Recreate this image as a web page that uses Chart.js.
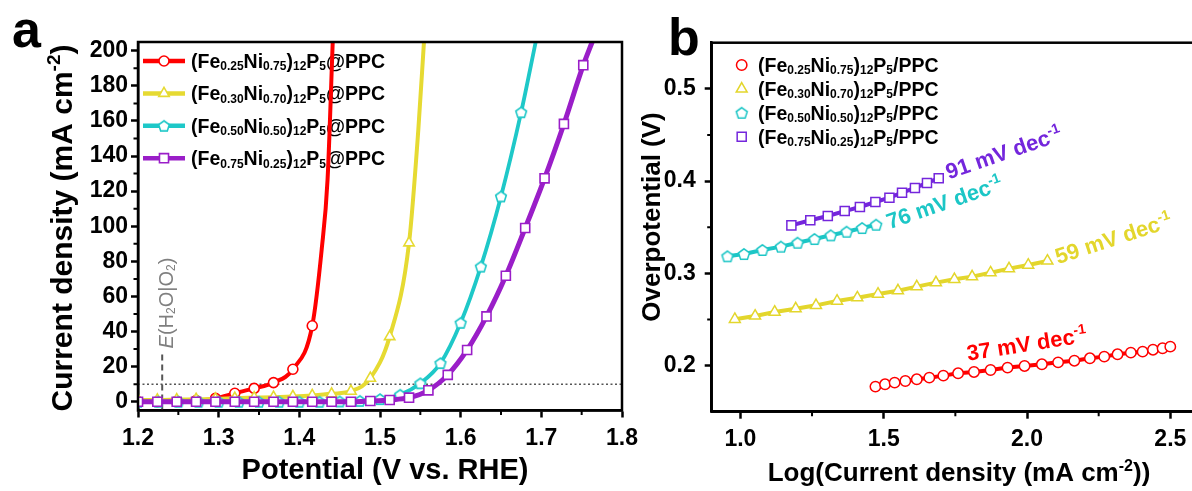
<!DOCTYPE html>
<html lang="en">
<head>
<meta charset="UTF-8">
<title>LSV and Tafel plots</title>
<script src="https://cdn.jsdelivr.net/npm/chart.js@4.4.1/dist/chart.umd.min.js"></script>
<style>
  html, body { margin: 0; padding: 0; background: #fff; overflow: hidden; }
  #wrap { position: relative; width: 1192px; height: 491px; overflow: hidden; }
  #chartA { position: absolute; left: 0; top: 0; }
  #chartB { position: absolute; left: 600px; top: 0; }
</style>
</head>
<body>
<div id="wrap">
  <canvas id="chartA" width="650" height="491"></canvas>
  <canvas id="chartB" width="620" height="491"></canvas>
</div>

<script>
// ---- panel a : LSV curves (potential V vs RHE, current density mA cm-2) ----
var potA24 = [1.2, 1.224, 1.248, 1.272, 1.296, 1.32, 1.344, 1.368, 1.392, 1.416, 1.44, 1.464,
              1.488, 1.512, 1.536, 1.56, 1.584, 1.608, 1.632, 1.656, 1.68, 1.704, 1.728, 1.752];
var potA25 = [1.2, 1.225, 1.25, 1.275, 1.3, 1.325, 1.35, 1.375, 1.4, 1.425,
              1.45, 1.475, 1.5, 1.525, 1.55, 1.575, 1.6, 1.625, 1.65, 1.675];

var jRed    = [0, 0, 0.2, 0.6, 1.9, 4.8, 7.6, 10.9, 18.5, 43.3];
var jYellow = [1, 1, 1.2, 1.4, 1.6, 2, 2.3, 2.6, 3, 3.6, 4.5, 6, 13.4, 37.1, 90.5];
var jCyan   = [0, 0, 0, 0, 0, 0, 0, 0, 0, 0, 0.2, 0.5, 1.5, 4, 10.5, 22, 45, 77, 117, 165];
var jPurple = [0, 0, 0, 0, 0, 0, 0, 0, 0, 0, 0, 0, 0.4, 1, 2.3, 6.5, 15.3, 29.5, 48.6, 71.8,
               99, 127.3, 158.3, 191.8];

// line continues past the last marker up to the top of the frame
var tailRedV = [1.4277, 1.435, 1.4414],   tailRedJ = [86.7, 126.7, 205];
var tailYelV = [1.5475, 1.5545],          tailYelJ = [155, 205];
var tailCyaV = [1.693],                   tailCyaJ = [205];
var tailPurV = [1.763],                   tailPurJ = [205];

var potTicks = [1.2, 1.3, 1.4, 1.5, 1.6, 1.7, 1.8];
var potMinor = [1.25, 1.35, 1.45, 1.55, 1.65, 1.75];
var jTicks = [0, 20, 40, 60, 80, 100, 120, 140, 160, 180, 200];
var jMinor = [10, 30, 50, 70, 90, 110, 130, 150, 170, 190];
var eqPotential = 1.23;
var refCurrent = 10;

// ---- panel b : Tafel plots (log j, overpotential V) ----
var logRed = [1.4712, 1.5047, 1.5382, 1.5755, 1.6154, 1.6592, 1.7081, 1.7596, 1.815, 1.8729, 1.9321,
              1.9914, 2.0519, 2.1085, 2.1652, 2.2193, 2.2695, 2.3158, 2.3622, 2.4034, 2.4395, 2.4729, 2.4999];
var etaRed = [0.1772, 0.1797, 0.1815, 0.1833, 0.1851, 0.1869, 0.1891, 0.1916, 0.1931, 0.1952, 0.1978,
              0.1996, 0.2014, 0.2035, 0.2053, 0.2079, 0.2097, 0.2122, 0.214, 0.2151, 0.2172, 0.2187, 0.2205];
var logYellow = [0.9807, 1.0515, 1.1197, 1.1931, 1.2639, 1.3373, 1.4081, 1.4802, 1.5498, 1.6154,
                 1.6824, 1.7467, 1.8085, 1.8729, 1.9373, 2.0043, 2.0712];
var etaYellow = [0.2502, 0.2538, 0.2581, 0.2617, 0.2653, 0.27, 0.2736, 0.2776, 0.2812, 0.2856,
                 0.2899, 0.2935, 0.2964, 0.3007, 0.3051, 0.309, 0.3134];
var logCyan = [0.955, 1.0129, 1.0772, 1.1416, 1.1996, 1.2588, 1.3154, 1.3708, 1.4249, 1.4738];
var etaCyan = [0.3185, 0.3209, 0.3253, 0.3289, 0.3332, 0.3372, 0.3412, 0.3451, 0.3491, 0.3527];
var logPurple = [1.178, 1.244, 1.305, 1.364, 1.417, 1.471, 1.52, 1.564, 1.609, 1.651, 1.692];
var etaPurple = [0.352, 0.3575, 0.3621, 0.3675, 0.3719, 0.3773, 0.382, 0.3874, 0.3925, 0.398, 0.403];

var logTicks = [1.0, 1.5, 2.0, 2.5];
var logMinor = [1.25, 1.75, 2.25];
var etaTicks = [0.2, 0.3, 0.4, 0.5];
var etaMinor = [0.25, 0.35, 0.45];

var tafelSlopes = ['37', '59', '76', '91'];
var compositions = [['0.25', '0.75'], ['0.30', '0.70'], ['0.50', '0.50'], ['0.75', '0.25']];

// ---- styling ----
var FONT = "'Liberation Sans', Arial, Helvetica, sans-serif";
var colA = ['#ff0000', '#e6da32', '#1ec8c8', '#9a1ec8'];
var colB = ['#ff0000', '#e3d62c', '#1cc6c6', '#7426dc'];

function pentagon(color, r, lw) {
  var c = document.createElement('canvas');
  var s = 2 * Math.ceil(r + lw);
  c.width = c.height = s;
  var g = c.getContext('2d');
  g.beginPath();
  for (var i = 0; i < 5; i++) {
    var a = -Math.PI / 2 + i * 2 * Math.PI / 5;
    g.lineTo(s / 2 + r * Math.cos(a), s / 2 + 0.6 + r * Math.sin(a));
  }
  g.closePath();
  g.fillStyle = '#fff';
  g.fill();
  g.strokeStyle = color;
  g.lineWidth = lw;
  g.stroke();
  return c;
}

var stylesA = ['circle', 'triangle', pentagon(colA[2], 5.6, 1.6), 'rect'];
var stylesB = ['circle', 'triangle', pentagon(colB[2], 5.8, 1.5), 'rect'];
var radA = [5, 6, 6, 6.4];
var radB = [5.2, 6.3, 6, 6.4];

function name(i) {
  return '(Fe_{' + compositions[i][0] + '}Ni_{' + compositions[i][1] + '})_{12}P_{5}';
}

// small rich-text writer: _{sub}, ^{sup}, *italic*
function parts(s) {
  return s.split(/(_\{[^}]*\}|\^\{[^}]*\}|\*[^*]*\*)/).filter(Boolean).map(function (p) {
    if (p.indexOf('_{') === 0) return { t: p.slice(2, -1), k: 'sub' };
    if (p.indexOf('^{') === 0) return { t: p.slice(2, -1), k: 'sup' };
    if (p.charAt(0) === '*') return { t: p.slice(1, -1), k: 'it' };
    return { t: p, k: 'n' };
  });
}

function drawRich(ctx, str, x, y, o) {
  var ps = parts(str), size = o.size, w = o.weight || 'bold';
  var fontOf = function (k) {
    var fs = (k === 'sub' || k === 'sup') ? Math.round(size * 0.62) : size;
    return (k === 'it' ? 'italic ' : '') + w + ' ' + fs + 'px ' + FONT;
  };
  var total = 0;
  ps.forEach(function (p) { ctx.font = fontOf(p.k); p.w = ctx.measureText(p.t).width; total += p.w; });
  ctx.save();
  ctx.translate(x, y);
  if (o.rot) ctx.rotate(o.rot * Math.PI / 180);
  ctx.fillStyle = o.color || '#000';
  ctx.textBaseline = 'alphabetic';
  ctx.textAlign = 'left';
  var cx = o.align === 'center' ? -total / 2 : 0;
  ps.forEach(function (p) {
    ctx.font = fontOf(p.k);
    var dy = p.k === 'sub' ? size * 0.12 : p.k === 'sup' ? -size * 0.4 : 0;
    ctx.fillText(p.t, cx, dy);
    cx += p.w;
  });
  ctx.restore();
}

function marker(ctx, style, r, color, bw, x, y) {
  ctx.save();
  ctx.fillStyle = '#fff';
  ctx.strokeStyle = color;
  ctx.lineWidth = bw;
  Chart.helpers.drawPoint(ctx, { pointStyle: style, radius: r, borderWidth: bw, rotation: 0 }, x, y);
  ctx.restore();
}

function frame(chart, xMinor, yMinor) {
  var ctx = chart.ctx, a = chart.chartArea, sx = chart.scales.x, sy = chart.scales.y;
  ctx.save();
  ctx.strokeStyle = '#000';
  ctx.lineWidth = 2;
  ctx.beginPath();
  xMinor.forEach(function (v) { var p = sx.getPixelForValue(v); ctx.moveTo(p, a.bottom); ctx.lineTo(p, a.bottom + 4.5); });
  yMinor.forEach(function (v) { var p = sy.getPixelForValue(v); ctx.moveTo(a.left, p); ctx.lineTo(a.left - 4.5, p); });
  ctx.stroke();
  ctx.lineWidth = 2.5;
  ctx.strokeRect(a.left, a.top, a.right - a.left, a.bottom - a.top);
  ctx.restore();
}

function axis(min, max, ticks, fmt, fit, pad) {
  return {
    type: 'linear', min: min, max: max,
    afterBuildTicks: function (s) { s.ticks = ticks.map(function (v) { return { value: v }; }); },
    afterFit: fit,
    ticks: { callback: fmt, font: { family: FONT, size: 23, weight: 'bold' }, color: '#000',
             autoSkip: false, maxRotation: 0, padding: pad },
    grid: { drawOnChartArea: false, tickLength: 7, tickWidth: 2.5, tickColor: '#000' },
    border: { color: '#000', width: 2.5 }
  };
}

function zip(xs, ys) { return xs.map(function (x, k) { return { x: x, y: ys[k] }; }); }

// ---------- chart a ----------
function lsv(i, v, j, tv, tj, lw, order) {
  var n = v.length;
  return {
    label: name(i) + '@PPC',
    data: zip(v, j).concat(zip(tv, tj)),
    borderColor: colA[i], borderWidth: lw,
    pointStyle: stylesA[i],
    pointRadius: function (c) { return c.dataIndex < n ? radA[i] : 0; },
    pointBackgroundColor: '#fff', pointBorderColor: colA[i], pointBorderWidth: 1.6,
    cubicInterpolationMode: 'monotone', order: order
  };
}

var decoA = {
  id: 'decoA',
  beforeDatasetsDraw: function (chart) {
    var ctx = chart.ctx;
    for (var i = 0; i < 4; i++) {
      var y = 61 + i * 32.4;
      ctx.save();
      ctx.strokeStyle = colA[i];
      ctx.lineWidth = 4.5;
      ctx.beginPath(); ctx.moveTo(143, y); ctx.lineTo(185, y); ctx.stroke();
      ctx.restore();
      marker(ctx, stylesA[i], radA[i], colA[i], 1.6, 164, y);
      drawRich(ctx, name(i) + '@PPC', 191, y + 7, { size: 19.5 });
    }
    drawRich(ctx, '*E*(H_{2}O|O_{2})', 173, 303, { size: 20, weight: 'normal', rot: -90, align: 'center', color: '#7f7f7f' });
  },
  afterDraw: function (chart) {
    var ctx = chart.ctx;
    frame(chart, potMinor, jMinor);
    drawRich(ctx, 'Current density (mA cm^{-2})', 72, 228, { size: 30, rot: -90, align: 'center' });
    drawRich(ctx, 'Potential (V vs. RHE)', 385, 479, { size: 29, align: 'center' });
    drawRich(ctx, 'a', 12, 47, { size: 52 });
  }
};

new Chart(document.getElementById('chartA'), {
  type: 'line',
  data: {
    datasets: [
      lsv(3, potA24, jPurple, tailPurV, tailPurJ, 5, 1),
      lsv(2, potA25, jCyan, tailCyaV, tailCyaJ, 3.8, 2),
      lsv(1, potA24.slice(0, jYellow.length), jYellow, tailYelV, tailYelJ, 4, 3),
      lsv(0, potA24.slice(0, jRed.length), jRed, tailRedV, tailRedJ, 4, 4),
      { label: 'j = 10', data: zip([1.2, 1.8], [refCurrent, refCurrent]), borderColor: '#555', borderWidth: 1.5,
        borderDash: [2, 2.5], pointRadius: 0, order: 9 },
      { label: 'E', data: zip([eqPotential, eqPotential], [-5, 28]), borderColor: '#555', borderWidth: 2,
        borderDash: [6, 4], pointRadius: 0, order: 9 }
    ]
  },
  options: {
    responsive: false, animation: false, devicePixelRatio: 1, events: [],
    layout: { padding: { left: 0, right: 28, top: 42, bottom: 0 } },
    plugins: { legend: { display: false }, tooltip: { enabled: false } },
    scales: {
      x: axis(1.2, 1.8, potTicks, function (v) { return v.toFixed(1); }, function (s) { s.height = 80.5; }, 7),
      y: axis(-5, 205, jTicks, function (v) { return String(v); }, function (s) { s.width = 138; }, 3)
    }
  },
  plugins: [decoA]
});

// ---------- chart b ----------
function tafel(i, lx, ey, order) {
  return {
    label: name(i) + '/PPC',
    data: zip(lx, ey),
    showLine: true, tension: 0,
    borderColor: colB[i], borderWidth: 4,
    pointStyle: stylesB[i], pointRadius: radB[i],
    pointBackgroundColor: '#fff', pointBorderColor: colB[i], pointBorderWidth: 1.5,
    order: order
  };
}

var slopeLabels = [
  { i: 3, x: 1.727, y: 0.4018, rot: -19 },
  { i: 2, x: 1.52, y: 0.3477, rot: -19 },
  { i: 1, x: 2.108, y: 0.3099, rot: -18 },
  { i: 0, x: 1.794, y: 0.2052, rot: -9 }
];

var decoB = {
  id: 'decoB',
  afterDraw: function (chart) {
    var ctx = chart.ctx, sx = chart.scales.x, sy = chart.scales.y;
    frame(chart, logMinor, etaMinor);
    for (var i = 0; i < 4; i++) {
      var y = 65 + i * 23.9;
      marker(ctx, stylesB[i], radB[i], colB[i], 1.5, 141.7, y);
      drawRich(ctx, name(i) + '/PPC', 158, y + 7, { size: 19.5 });
    }
    slopeLabels.forEach(function (l) {
      drawRich(ctx, tafelSlopes[l.i] + ' mV dec^{-1}', sx.getPixelForValue(l.x), sy.getPixelForValue(l.y),
               { size: 22, rot: l.rot, color: colB[l.i] });
    });
    drawRich(ctx, 'Overpotential (V)', 60, 217, { size: 26, rot: -90, align: 'center' });
    drawRich(ctx, 'Log(Current density (mA cm^{-2}))', 359, 481, { size: 26, align: 'center' });
    drawRich(ctx, 'b', 68, 55, { size: 52 });
  }
};

new Chart(document.getElementById('chartB'), {
  type: 'scatter',
  data: {
    datasets: [
      tafel(3, logPurple, etaPurple, 1),
      tafel(2, logCyan, etaCyan, 2),
      tafel(1, logYellow, etaYellow, 3),
      tafel(0, logRed, etaRed, 4)
    ]
  },
  options: {
    responsive: false, animation: false, devicePixelRatio: 1, events: [],
    layout: { padding: { left: 0, right: 21, top: 42.7, bottom: 0 } },
    plugins: { legend: { display: false }, tooltip: { enabled: false } },
    scales: {
      x: axis(0.9, 2.6, logTicks, function (v) { return v.toFixed(1); }, function (s) { s.height = 79.3; }, 7),
      y: axis(0.15, 0.55, etaTicks, function (v) { return v.toFixed(1); }, function (s) { s.width = 111.7; }, 9)
    }
  },
  plugins: [decoB]
});
</script>
</body>
</html>
